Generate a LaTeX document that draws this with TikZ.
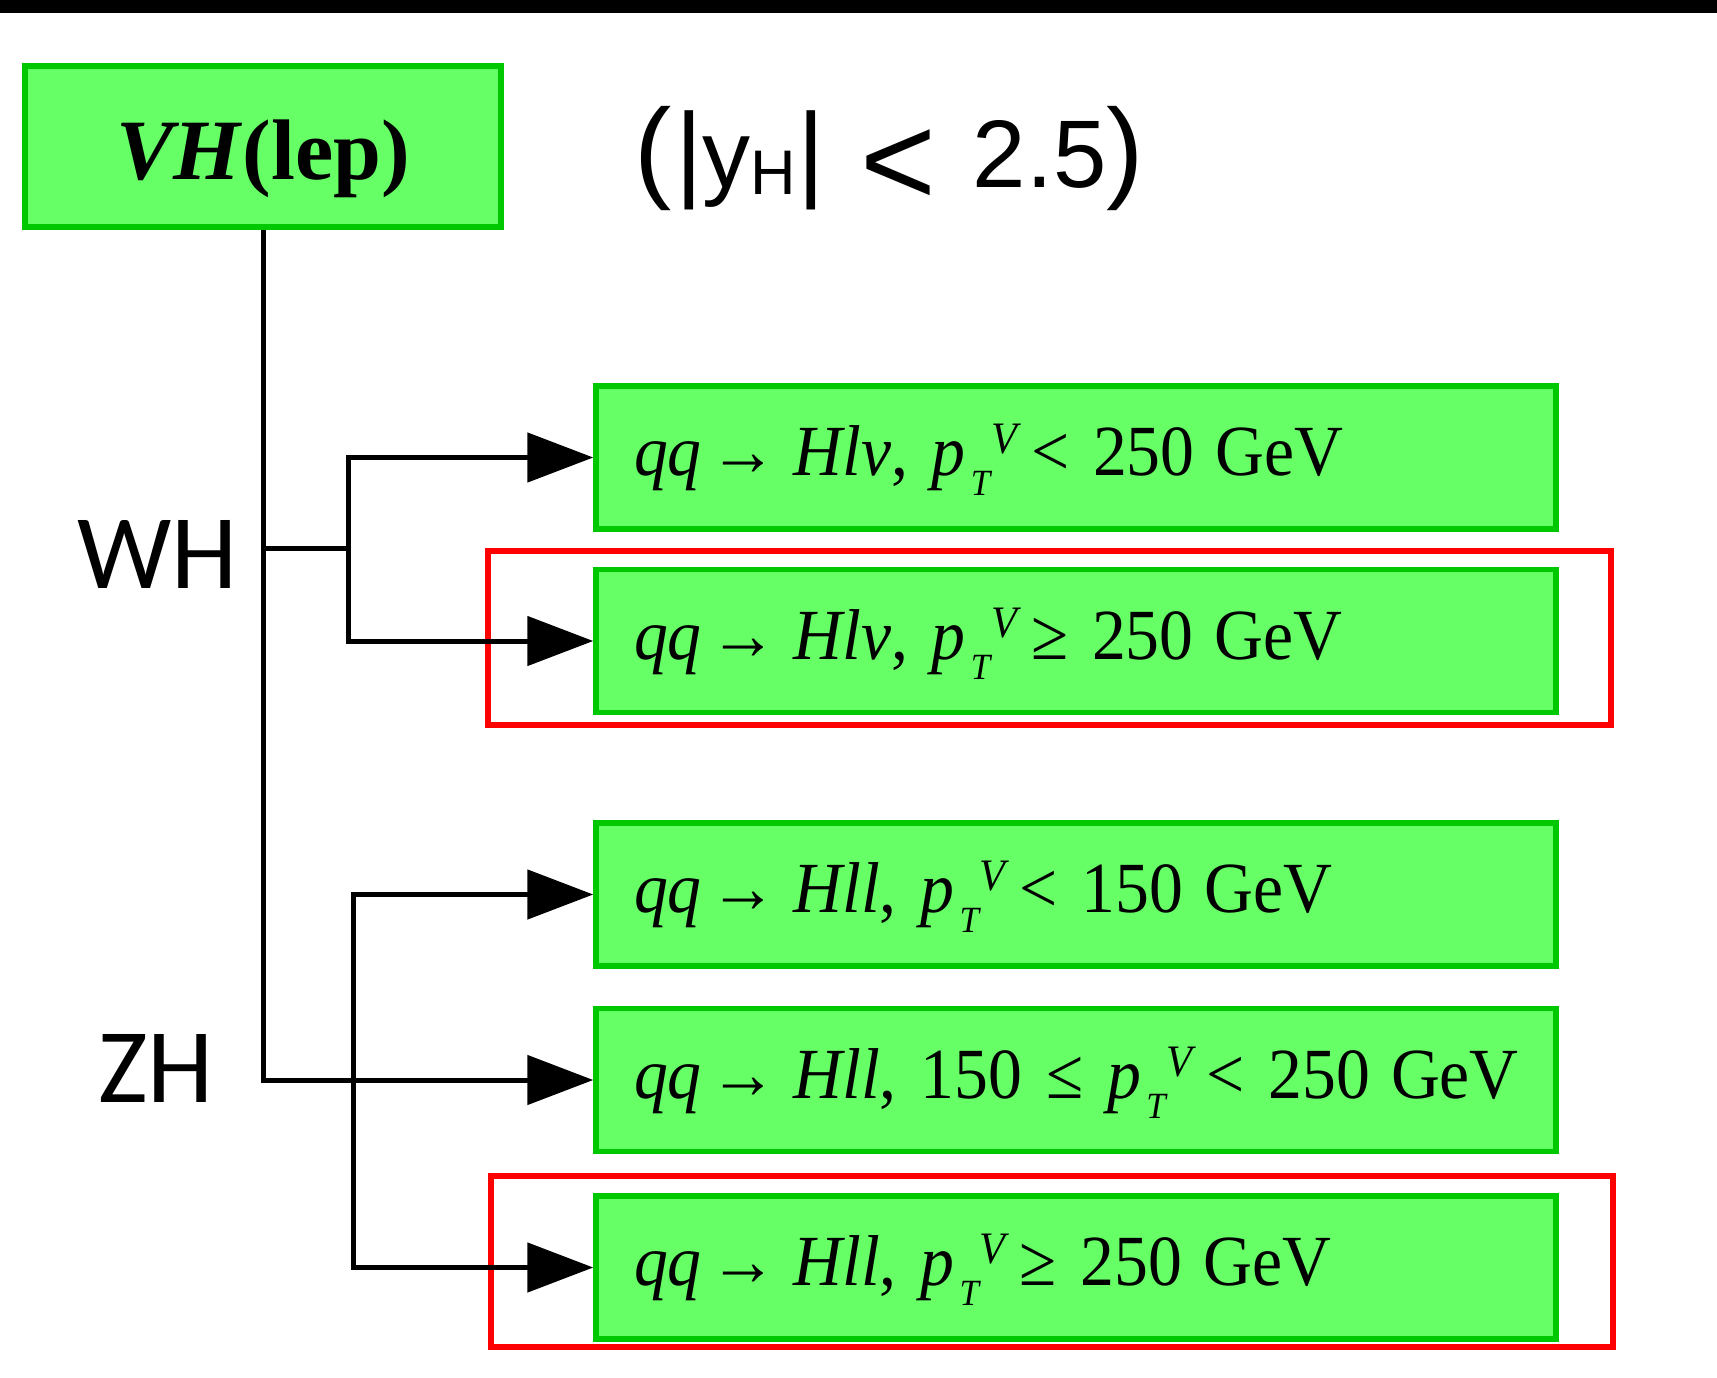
\documentclass[tikz,border=0pt]{standalone}
\usepackage{fontspec}
\setmainfont{Liberation Serif}
\newfontfamily\boxfont[FakeStretch=0.94]{Liberation Serif}
\newfontfamily\lsans{Liberation Sans}
\newfontfamily\carl{Carlito}
\usetikzlibrary{arrows.meta}
\definecolor{gfill}{RGB}{102,255,102}
\definecolor{gdraw}{RGB}{0,200,0}
\definecolor{hired}{RGB}{255,0,0}
\newcommand{\ptvx}{\textit{p}\kern5pt\raisebox{-20pt}{\fontsize{37}{37}\selectfont\itshape T}\kern1pt\raisebox{22pt}{\fontsize{45}{45}\selectfont\itshape V}\kern-10pt}
\newcommand{\arrx}{\kern-16pt→\kern-8pt}
\newcommand{\cattext}[1]{\mbox{#1}}
\begin{document}
\begin{tikzpicture}[x=1pt,y=-1pt,
  catbox/.style={draw=gdraw, fill=gfill, line width=5.5pt, minimum width=960pt,
    minimum height=143pt, inner xsep=38pt, text width=884pt, align=left,
    font=\boxfont\fontsize{72}{72}\selectfont, text height=36pt, text depth=0pt},
  topbox/.style={draw=gdraw, fill=gfill, line width=5.5pt, minimum width=476pt,
    minimum height=161pt, inner sep=0pt, font=\fontsize{86}{86}\selectfont\bfseries,
    text height=66pt, text depth=0pt},
  conn/.style={line width=5pt},
  arr/.style={conn, -{Triangle[length=66pt,width=49pt]}},
  redframe/.style={draw=hired, line width=6pt},
  grouplbl/.style={anchor=base west, inner sep=0pt, font=\carl\fontsize{106}{106}\selectfont}
]
\useasboundingbox (0,0) rectangle (1717,1378);
\fill[white] (0,0) rectangle (1717,1378);
\fill[black] (0,0) rectangle (1717,13);

\node[topbox] (vh) at (263,146.5) {\textit{VH}(lep)};
\node[anchor=base west, inner sep=0pt, font=\lsans] (cond) at (634,187)
  {{\fontsize{112}{112}\selectfont(}\kern4pt{\fontsize{106}{106}\selectfont|}\kern-1pt{\fontsize{96}{96}\selectfont y}\raisebox{-8pt}{\fontsize{63}{63}\selectfont H}\kern2pt{\fontsize{106}{106}\selectfont|}\kern35pt\raisebox{-18pt}{\fontsize{130}{130}\selectfont<}\kern37pt{\fontsize{96}{96}\selectfont 2.5}{\fontsize{112}{112}\selectfont)}};

\node[grouplbl] (wh) at (77,588) {WH};
\node[grouplbl] (zh) at (98,1102) {ZH};

\node[catbox] (b1) at (1076,457.5) {\cattext{\textit{qq} \arrx{} \textit{Hlv}, \ptvx{} < 250\kern-3pt{} GeV}};
\node[catbox] (b2) at (1076,641) {\cattext{\textit{qq} \arrx{} \textit{Hlv}, \ptvx{} ≥ 250\kern-3pt{} GeV}};
\node[catbox] (b3) at (1076,894.5) {\cattext{\textit{qq} \arrx{} \textit{Hll}, \ptvx{} < 150\kern-3pt{} GeV}};
\node[catbox] (b4) at (1076,1080) {\cattext{\textit{qq} \arrx{} \textit{Hll}, 150 ≤ \ptvx{} < 250\kern-3pt{} GeV}};
\node[catbox] (b5) at (1076,1267.5) {\cattext{\textit{qq} \arrx{} \textit{Hll}, \ptvx{} ≥ 250\kern-3pt{} GeV}};

\draw[redframe] (488,551) rectangle (1611,725);
\draw[redframe] (491,1176) rectangle (1613,1347);

\coordinate (wj) at (263,548);
\coordinate (wk) at (348,548);
\coordinate (zk) at (353,1080);

\draw[arr] (vh.south) |- (b4.west);
\draw[conn] (wj) -- (wk);
\draw[arr] (wk) |- (b1.west);
\draw[arr] (wk) |- (b2.west);
\draw[arr] (zk) |- (b3.west);
\draw[arr] (zk) |- (b5.west);
\end{tikzpicture}
\end{document}
